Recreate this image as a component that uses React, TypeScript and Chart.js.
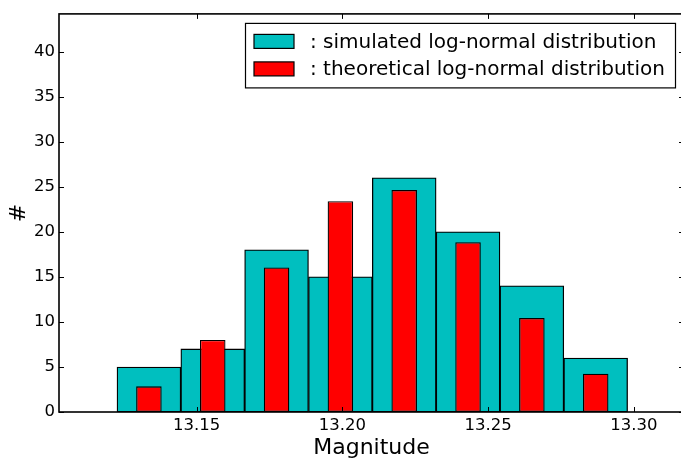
import React, { useEffect, useRef } from "react";
import { Chart, registerables } from "chart.js";
Chart.register(...registerables);

// ---- data ----
const binCenters = [13.1336, 13.1555, 13.1774, 13.1993, 13.2212, 13.2431, 13.265, 13.2869];
const simulated = [5, 7, 18, 15, 26, 20, 14, 6];
const theoretical = [2.85, 8.0, 16.05, 23.4, 24.65, 18.85, 10.45, 4.25];
const xTickValues = [13.15, 13.2, 13.25, 13.3];
const xTickLabels = ["13.15", "13.20", "13.25", "13.30"];
const yTickValues = [0, 5, 10, 15, 20, 25, 30, 35, 40];
const yTickLabels = ["0", "5", "10", "15", "20", "25", "30", "35", "40"];
const seriesLabels = [": simulated log-normal distribution", ": theoretical log-normal distribution"];
const seriesColors = ["#00BFBF", "#FF0000"];
const xTitle = "Magnitude";
const yTitle = "#";

const FAMILY = "'DejaVu Sans', sans-serif";

const framePlugin = {
  id: "mplFrame",
  afterDraw(chart: any) {
    const { ctx, chartArea: a, scales } = chart;
    ctx.save();
    ctx.strokeStyle = "#000";
    ctx.lineWidth = 1;
    const L = 5;
    ctx.beginPath();
    for (const v of xTickValues) {
      const px = Math.round(scales.x.getPixelForValue(v)) + 0.5;
      ctx.moveTo(px, a.bottom);
      ctx.lineTo(px, a.bottom - L);
      ctx.moveTo(px, a.top);
      ctx.lineTo(px, a.top + L);
    }
    for (const v of yTickValues) {
      const py = Math.round(scales.y.getPixelForValue(v)) + 0.5;
      ctx.moveTo(a.left, py);
      ctx.lineTo(a.left + L, py);
      ctx.moveTo(a.right, py);
      ctx.lineTo(a.right - L, py);
    }
    ctx.stroke();
    ctx.lineWidth = 1.6;
    ctx.strokeRect(a.left, a.top, a.right - a.left, a.bottom - a.top);

    // legend (matplotlib style, upper right)
    const fl = a.right - 438.5;
    const fr = a.right - 8.5;
    const ft = a.top + 9.5;
    const fb = a.top + 74;
    ctx.fillStyle = "#fff";
    ctx.fillRect(fl, ft, fr - fl, fb - ft);
    ctx.lineWidth = 1.2;
    ctx.strokeRect(fl, ft, fr - fl, fb - ft);
    ctx.font = `20px ${FAMILY}`;
    ctx.textAlign = "left";
    ctx.textBaseline = "alphabetic";
    for (let i = 0; i < seriesLabels.length; i++) {
      const by = ft + 11 + i * 27.5;
      ctx.fillStyle = seriesColors[i];
      ctx.fillRect(fl + 8.5, by, 40, 14);
      ctx.strokeStyle = "#000";
      ctx.lineWidth = 1.2;
      ctx.strokeRect(fl + 8.5, by, 40, 14);
      ctx.fillStyle = "#000";
      ctx.fillText(seriesLabels[i], fl + 64.5, by + 13.5);
    }
    ctx.restore();
  },
};

export default function App() {
  const ref = useRef<HTMLCanvasElement>(null);
  useEffect(() => {
    document.body.style.margin = "0";
    const canvas = ref.current!;
    const chart = new Chart(canvas, {
      type: "bar",
      data: {
        datasets: [
          {
            label: seriesLabels[0],
            data: binCenters.map((x, i) => ({ x, y: simulated[i] })),
            backgroundColor: seriesColors[0],
            borderColor: "#000",
            borderWidth: 1.3,
            borderSkipped: false,
            grouped: false,
            categoryPercentage: 1,
            barPercentage: 1,
            order: 2,
          } as any,
          {
            label: seriesLabels[1],
            data: binCenters.map((x, i) => ({ x, y: theoretical[i] })),
            backgroundColor: seriesColors[1],
            borderColor: "#000",
            borderWidth: 1.3,
            borderSkipped: false,
            grouped: false,
            categoryPercentage: 1,
            barPercentage: 0.4,
            order: 1,
          } as any,
        ],
      },
      options: {
        responsive: false,
        animation: false,
        layout: { padding: { left: 0, top: 8, right: 6, bottom: 0 } },
        plugins: { legend: { display: false }, tooltip: { enabled: false } },
        scales: {
          x: {
            type: "linear",
            min: 13.10275,
            max: 13.3172,
            offset: false,
            grid: { display: false, drawTicks: false, tickLength: 0, offset: false },
            border: { display: false },
            afterBuildTicks: (s: any) => {
              s.ticks = xTickValues.map((v) => ({ value: v }));
            },
            afterFit: (s: any) => {
              s.height = 49;
            },
            ticks: {
              autoSkip: false,
              maxRotation: 0,
              padding: 4,
              color: "#000",
              font: { family: FAMILY, size: 16.5 },
              callback: (_v: any, i: number) => xTickLabels[i],
            },
            title: {
              display: true,
              text: xTitle,
              color: "#000",
              font: { family: FAMILY, size: 22 },
              padding: { top: 0, bottom: 0 },
            },
          },
          y: {
            type: "linear",
            min: 0,
            max: 44.2,
            grid: { display: false, drawTicks: false, tickLength: 0 },
            border: { display: false },
            afterBuildTicks: (s: any) => {
              s.ticks = yTickValues.map((v) => ({ value: v }));
            },
            afterFit: (s: any) => {
              s.width = 59;
            },
            ticks: {
              autoSkip: false,
              padding: 4,
              color: "#000",
              font: { family: FAMILY, size: 16.5 },
              callback: (_v: any, i: number) => yTickLabels[i],
            },
            title: {
              display: true,
              text: yTitle,
              color: "#000",
              font: { family: FAMILY, size: 22 },
              padding: { top: 6, bottom: 0 },
            },
          },
        },
      } as any,
      plugins: [framePlugin],
    });
    return () => chart.destroy();
  }, []);
  return (
    <div
      style={{
        position: "fixed",
        left: 0,
        top: 0,
        width: 681,
        height: 461,
        overflow: "hidden",
        background: "#fff",
      }}
    >
      <canvas ref={ref} width={690} height={461} style={{ display: "block" }} />
    </div>
  );
}
